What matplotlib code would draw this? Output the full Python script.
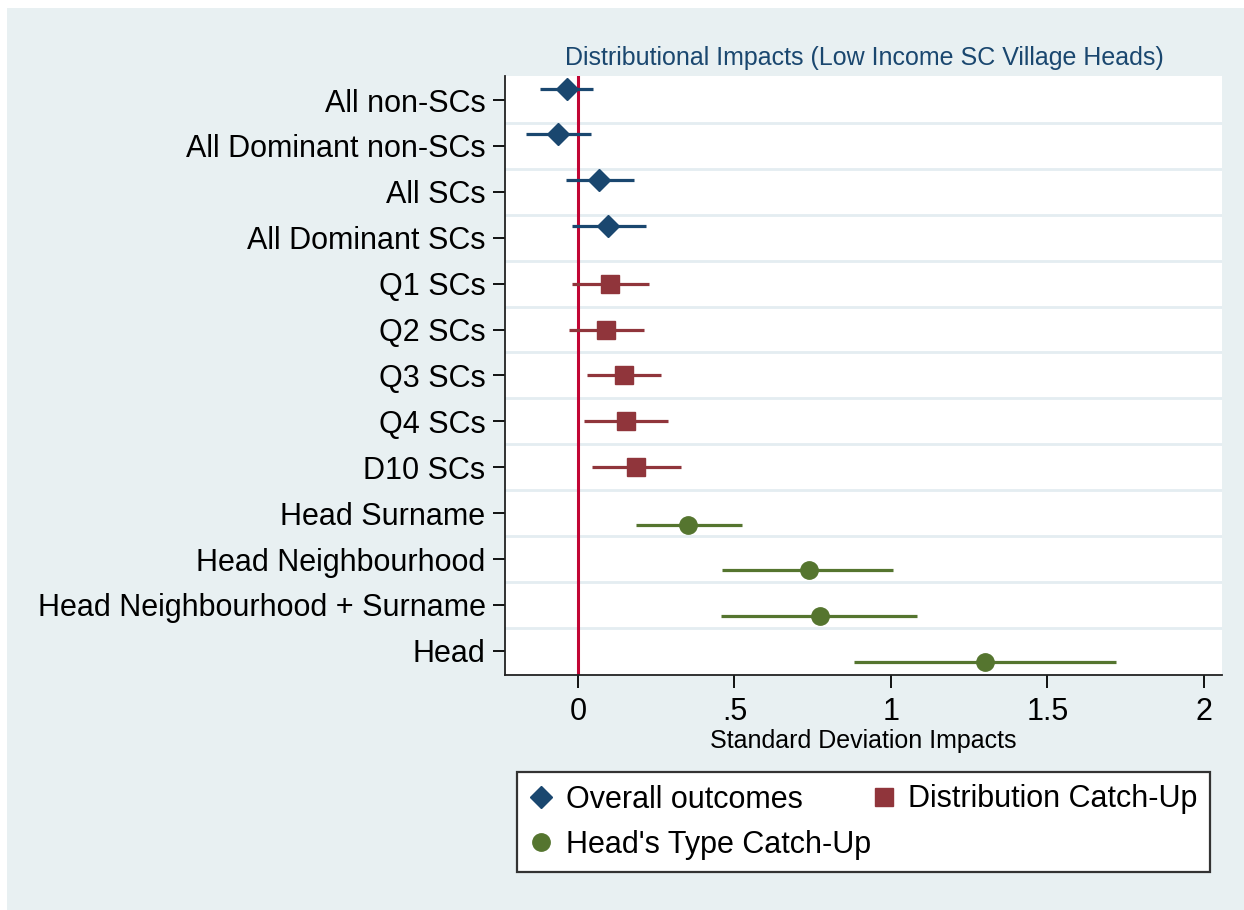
import numpy as np
import matplotlib
matplotlib.use("Agg")
import matplotlib.pyplot as plt
from matplotlib.lines import Line2D
from matplotlib.patches import Rectangle

plt.rcParams['font.family'] = ['Liberation Sans', 'DejaVu Sans']

labels = ["All non-SCs", "All Dominant non-SCs", "All SCs", "All Dominant SCs",
          "Q1 SCs", "Q2 SCs", "Q3 SCs", "Q4 SCs", "D10 SCs",
          "Head Surname", "Head Neighbourhood", "Head Neighbourhood + Surname", "Head"]

# overall outcomes (rows 0-3)
overall_est = [-0.036, -0.063, 0.068, 0.097]
overall_lo = [-0.121, -0.166, -0.039, -0.020]
overall_hi = [0.049, 0.042, 0.180, 0.216]

# distribution catch-up (rows 4-8)
dist_est = [0.103, 0.090, 0.147, 0.153, 0.186]
dist_lo = [-0.018, -0.028, 0.028, 0.021, 0.046]
dist_hi = [0.227, 0.211, 0.267, 0.287, 0.329]

# head's type catch-up (rows 9-12)
head_est = [0.353, 0.737, 0.772, 1.30]
head_lo = [0.185, 0.461, 0.457, 0.881]
head_hi = [0.524, 1.008, 1.083, 1.72]

xticks = [0, 0.5, 1, 1.5, 2]
xticklabels = ["0", ".5", "1", "1.5", "2"]

navy = "#1a476f"
maroon = "#90353b"
green = "#55752f"
bg = "#e8f0f2"

fig = plt.figure(figsize=(12.44, 9.10), dpi=100)
fig.patch.set_facecolor("white")
fig.patches.append(Rectangle((7 / 1244, 0), 1 - 7 / 1244, 1 - 8 / 910,
                             transform=fig.transFigure, facecolor=bg,
                             edgecolor="none", zorder=-10))

ax = fig.add_axes([505 / 1244, 1 - 675 / 910, (1222 - 505) / 1244, (675 - 76) / 910])
ax.set_facecolor("white")

series = [
    (0, overall_est, overall_lo, overall_hi, navy, "D", 11.5, -0.25, "Overall outcomes"),
    (4, dist_est, dist_lo, dist_hi, maroon, "s", 12.5, 0.0, "Distribution Catch-Up"),
    (9, head_est, head_lo, head_hi, green, "o", 12.5, 0.25, "Head's Type Catch-Up"),
]

handles = []
for start, est, lo, hi, col, mk, ms, off, name in series:
    y = np.arange(start, start + len(est)) + off
    ax.hlines(y, lo, hi, color=col, lw=2.3, zorder=3)
    ax.plot(est, y, linestyle="none", marker=mk, ms=ms, color=col, zorder=4)
    handles.append(Line2D([], [], linestyle="none", marker=mk, ms=ms, color=col, label=name))

ax.axvline(0, color="#c10534", lw=2.2, zorder=2)

for k in range(len(labels) - 1):
    ax.axhline(k + 0.5, color="#e4edf1", lw=2.0, zorder=1)

ax.set_ylim(12.527, -0.523)
ax.set_xlim(-0.233, 2.058)
ax.set_yticks(range(len(labels)))
ax.set_yticklabels(labels, fontsize=22)
ax.set_xticks(xticks)
ax.set_xticklabels(xticklabels, fontsize=22)
ax.tick_params(axis="y", length=9, width=1.3, pad=5)
ax.tick_params(axis="x", length=9, width=1.3, pad=7)

for s in ["top", "right"]:
    ax.spines[s].set_visible(False)
for s in ["left", "bottom"]:
    ax.spines[s].set_linewidth(1.3)
    ax.spines[s].set_color("#222222")

fig.text(864 / 1244, 1 - 58 / 910, "Distributional Impacts (Low Income SC Village Heads)",
         ha="center", va="center", fontsize=18, color=navy)
fig.text(863.5 / 1244, 1 - 741 / 910, "Standard Deviation Impacts",
         ha="center", va="center", fontsize=18)

leg = fig.legend(handles=[handles[0], handles[2], handles[1]], ncol=2,
                 loc="lower left", mode="expand",
                 bbox_to_anchor=(517 / 1244, 1 - 872 / 910, (1210 - 517) / 1244, 101 / 910),
                 fontsize=22, frameon=True, fancybox=False, handlelength=0.8,
                 handletextpad=0.4, borderpad=0.4, labelspacing=0.5,
                 borderaxespad=0, framealpha=1, facecolor="white")
leg.get_frame().set_edgecolor("#333333")
leg.get_frame().set_linewidth(1.6)

fig.savefig("out.png", dpi=100)
